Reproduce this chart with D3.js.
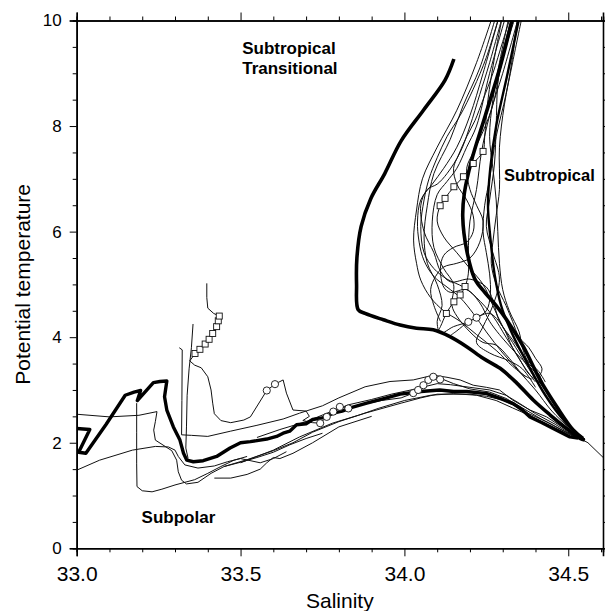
<!DOCTYPE html>
<html>
<head>
<meta charset="utf-8">
<style>
  body { margin: 0; background: #fff; }
  svg { font-family: "Liberation Sans", Arial, sans-serif; }
  .thin { fill: none; stroke: #111; stroke-width: 1; }
  .thick { fill: none; stroke: #000; stroke-width: 3.6; stroke-linejoin: round; }
  .axis path, .axis line { stroke: #000; }
  .axis path { stroke-width: 1.6; }
  .lbl { font-weight: bold; font-size: 17px; }
</style>
</head>
<body>
<svg width="605" height="611"></svg>
<script src="https://cdnjs.cloudflare.com/ajax/libs/d3/7.8.5/d3.min.js"></script>
<script>
// tick values
var xMajor = [33.0, 33.5, 34.0, 34.5];
var xMinor = [33.1, 33.2, 33.3, 33.4, 33.6, 33.7, 33.8, 33.9, 34.1, 34.2, 34.3, 34.4, 34.6];
var yMajor = [0, 2, 4, 6, 8, 10];
var yMinor = [0.5, 1, 1.5, 2.5, 3, 3.5, 4.5, 5, 5.5, 6.5, 7, 7.5, 8.5, 9, 9.5];

// thick profiles [salinity, temperature]
var thickTransitional = [[34.151,9.27],[34.124,8.87],[34.058,8.30],[33.99,7.72],[33.94,7.10],[33.897,6.62],[33.868,6.10],[33.855,5.5],[33.854,5.0],[33.859,4.52],
  [33.88,4.45],[33.936,4.33],[33.987,4.23],[34.037,4.17],[34.088,4.14],[34.139,4.01],[34.19,3.82],[34.24,3.60],[34.292,3.41],[34.343,3.13],[34.393,2.81],[34.444,2.53],[34.495,2.27],[34.536,2.08],[34.55,2.05]];
var thickSubtropical = [[34.332,10.1],[34.292,9.12],[34.246,8.18],[34.205,7.35],[34.183,6.73],[34.178,6.28],[34.19,5.65],[34.215,5.10],[34.245,4.85],[34.28,4.6],[34.312,4.33],[34.363,3.82],[34.414,3.19],[34.465,2.68],[34.515,2.24],[34.545,2.08]];
var thickSubtropical2 = [[34.352,10.1],[34.315,9.0],[34.28,8.0],[34.262,7.2],[34.255,6.5],[34.262,5.9],[34.275,5.2],[34.295,4.6],[34.33,4.05],[34.38,3.45],[34.43,2.9],[34.49,2.4],[34.55,2.05]];
var thickSubpolar = [[33.0,2.27],[33.04,2.25],[33.006,1.82],[33.028,1.80],[33.09,2.35],[33.148,2.90],[33.175,2.96],[33.195,2.99],[33.185,2.80],[33.234,3.14],[33.254,3.16],[33.275,3.17],[33.268,2.87],[33.275,2.62],[33.295,2.30],[33.315,2.05],[33.326,1.80],[33.336,1.67],
  [33.356,1.64],[33.386,1.66],[33.427,1.74],[33.468,1.90],[33.50,2.00],[33.53,2.02],[33.55,2.04],[33.58,2.07],[33.61,2.12],[33.63,2.18],[33.65,2.22],[33.671,2.34],[33.70,2.36],[33.72,2.44],[33.75,2.47],[33.783,2.56],[33.81,2.60],[33.84,2.67],[33.885,2.75],[33.94,2.84],[33.987,2.92],
  [34.05,2.97],[34.108,3.0],[34.15,2.97],[34.19,2.97],[34.251,2.93],[34.30,2.82],[34.332,2.74],[34.36,2.62],[34.383,2.49],[34.42,2.38],[34.454,2.27],[34.505,2.11],[34.53,2.09]];

// thin profiles, subtropical bundle
var thinB1 = [[34.27,10.1],[34.22,9.2],[34.16,8.3],[34.10,7.6],[34.055,7.0],[34.037,6.41],[34.028,5.84],[34.037,5.40],[34.05,5.08],[34.08,4.75],[34.12,4.5],[34.17,4.3],[34.22,4.05],[34.28,3.75],[34.33,3.45],[34.37,3.25]];
var thinB2 = [[34.28,10.1],[34.23,9.1],[34.18,8.4],[34.14,7.75],[34.09,7.1],[34.07,6.5],[34.06,5.9],[34.07,5.4],[34.10,5.0],[34.115,4.6],[34.10,4.3],[34.11,4.08],[34.15,4.2],[34.195,4.29],[34.22,4.37],[34.26,4.45],[34.30,4.2],[34.33,3.8],[34.37,3.4],[34.40,3.15]];
var thinB3 = [[34.30,10.1],[34.275,9.3],[34.255,8.5],[34.245,7.8],[34.24,7.52],[34.21,7.29],[34.18,7.04],[34.151,6.85],[34.124,6.63],[34.109,6.49],[34.10,6.2],[34.12,5.9],[34.16,5.6],[34.2,5.3],[34.24,5.0],[34.27,4.6],[34.30,4.2],[34.34,3.8],[34.38,3.4],[34.42,3.0]];
var thinB4 = [[34.35,10.1],[34.30,9.0],[34.26,8.2],[34.235,7.5],[34.22,6.8],[34.20,6.2],[34.195,5.6],[34.195,5.2],[34.185,4.96],[34.17,4.8],[34.151,4.67],[34.128,4.45],[34.11,4.2],[34.10,4.08]];
var thinB5 = [[34.345,10.1],[34.33,9.3],[34.31,8.6],[34.28,7.8],[34.26,7.0],[34.245,6.5],[34.24,6.0],[34.25,5.6],[34.26,5.2],[34.262,4.8],[34.25,4.5],[34.22,4.37],[34.195,4.29],[34.16,4.12],[34.14,4.03]];
var thinB6 = [[34.29,10.1],[34.24,9.0],[34.20,8.2],[34.16,7.6],[34.12,7.2],[34.085,6.9],[34.05,6.6],[34.04,6.2],[34.045,5.8],[34.06,5.45],[34.09,5.15],[34.13,4.95],[34.17,4.75],[34.21,4.45],[34.25,4.1],[34.3,3.7],[34.35,3.35],[34.40,3.0],[34.45,2.6],[34.5,2.3],[34.55,2.05]];
var thinB7 = [[34.32,10.1],[34.29,9.2],[34.27,8.5],[34.26,7.8],[34.27,7.2],[34.28,6.6],[34.285,6.0],[34.29,5.4],[34.30,4.9],[34.32,4.5],[34.35,4.1],[34.36,3.8],[34.38,3.5],[34.41,3.3],[34.43,3.0]];
var thinB8 = [[34.33,10.1],[34.30,9.4],[34.285,8.8],[34.28,8.0],[34.275,7.3],[34.26,6.6],[34.25,6.1],[34.27,5.6],[34.29,5.1],[34.27,4.6],[34.24,4.2],[34.22,3.9],[34.26,3.7],[34.32,3.55],[34.36,3.4],[34.40,3.05]];
var thinB9 = [[34.31,10.1],[34.26,9.0],[34.22,8.0],[34.19,7.6],[34.16,7.2],[34.13,6.95],[34.10,6.7],[34.085,6.2],[34.09,5.7],[34.12,5.3],[34.15,5.0],[34.145,4.6],[34.16,4.4],[34.20,4.1],[34.24,3.9],[34.28,3.85],[34.32,3.6],[34.36,3.3],[34.39,3.2]];
var thinB10 = [[34.34,10.1],[34.31,9.5],[34.29,9.0],[34.27,8.4],[34.24,7.9],[34.21,7.5],[34.19,7.2],[34.20,6.8],[34.22,6.5],[34.24,6.2],[34.23,5.8],[34.20,5.5],[34.16,5.4],[34.12,5.33],[34.095,5.15],[34.08,4.9],[34.09,4.6],[34.11,4.3]];
var thinB11 = [[34.36,10.1],[34.33,9.2],[34.305,8.4],[34.29,7.6],[34.29,6.8],[34.28,6.3],[34.27,5.8],[34.265,5.4],[34.28,5.0],[34.31,4.6],[34.33,4.3],[34.35,4.0],[34.38,3.8],[34.40,3.6],[34.42,3.4],[34.41,3.2],[34.43,3.0]];
var thinB12 = [[34.29,10.1],[34.25,9.3],[34.21,8.7],[34.17,8.2],[34.13,7.8],[34.10,7.4],[34.075,7.0],[34.06,6.6],[34.05,6.1],[34.06,5.6],[34.09,5.3],[34.13,5.1],[34.18,4.95],[34.22,4.75],[34.27,4.4],[34.31,4.0],[34.35,3.6],[34.38,3.3],[34.42,3.1],[34.47,2.6],[34.52,2.2]];
var thinB13 = [[34.30,10.1],[34.26,9.2],[34.23,8.6],[34.20,8.0],[34.17,7.5],[34.13,7.1],[34.10,6.9],[34.07,6.8],[34.05,6.5],[34.06,6.0],[34.09,5.6],[34.11,5.25],[34.14,5.05],[34.2,5.1],[34.25,4.95],[34.27,4.7],[34.29,4.3],[34.33,3.95],[34.37,3.6],[34.41,3.35],[34.43,3.15]];
var thinB14 = [[34.325,10.1],[34.30,9.6],[34.27,9.0],[34.24,8.5],[34.215,8.1],[34.19,7.8],[34.165,7.45],[34.15,7.2],[34.16,6.9],[34.19,6.6],[34.21,6.3],[34.21,6.0],[34.19,5.8],[34.15,5.7],[34.12,5.55],[34.11,5.3],[34.12,4.95],[34.14,4.85],[34.19,4.9],[34.23,4.65],[34.26,4.3],[34.29,4.05],[34.34,3.7],[34.38,3.45],[34.415,3.25]];
var thinTail = [[34.53,2.1],[34.56,2.0],[34.61,1.70]];

// thin profiles, subpolar and arc
var thinP1 = [[33.0,2.54],[33.1,2.49],[33.19,2.52],[33.245,2.59],[33.24,2.40],[33.235,2.24],[33.24,2.05],[33.27,1.93],[33.29,1.85],[33.305,1.67],[33.31,1.45],[33.32,1.29],[33.335,1.22],[33.37,1.25],[33.41,1.42],[33.45,1.55],[33.5,1.63],[33.55,1.72],[33.6,1.82],[33.65,1.96],[33.7,2.08],[33.75,2.18]];
var thinP2 = [[33.0,1.48],[33.07,1.67],[33.17,1.86],[33.24,1.93],[33.28,1.92],[33.30,1.86],[33.31,1.74],[33.33,1.58],[33.37,1.52],[33.42,1.56],[33.46,1.64],[33.5,1.70],[33.56,1.62],[33.6,1.70],[33.64,1.83]];
var thinP3 = [[33.183,2.75],[33.183,2.2],[33.183,1.6],[33.184,1.17],[33.2,1.09],[33.23,1.07],[33.26,1.12],[33.3,1.2],[33.36,1.3],[33.4,1.42],[33.44,1.55],[33.48,1.67],[33.52,1.74]];
var thinP4 = [[33.313,3.80],[33.322,3.76],[33.321,2.8],[33.320,2.15],[33.35,2.14],[33.40,2.12],[33.47,2.22],[33.55,2.33],[33.63,2.45],[33.68,2.56],[33.75,2.70],[33.80,2.85],[33.88,3.06],[33.956,3.16],[34.027,3.19],[34.088,3.28],[34.13,3.24],[34.17,3.19],[34.21,3.09],[34.25,3.05],[34.29,3.0],[34.33,2.81],[34.383,2.62],[34.434,2.49],[34.495,2.24],[34.54,2.08]];
var thinP5 = [[33.355,4.25],[33.35,3.8],[33.343,3.4],[33.337,2.9],[33.335,2.3],[33.333,1.9],[33.34,1.7]];
var thinP6 = [[33.397,5.02],[33.397,4.75],[33.40,4.55],[33.418,4.45],[33.435,4.40],[33.427,4.20],[33.415,4.07],[33.404,3.96],[33.392,3.87],[33.376,3.77],[33.361,3.69],[33.345,3.55],[33.36,3.47],[33.38,3.42],[33.40,3.25],[33.41,3.0],[33.415,2.75],[33.42,2.55],[33.44,2.42],[33.47,2.38],[33.51,2.43],[33.53,2.49],[33.58,2.99],[33.605,3.11],[33.63,3.19],[33.64,2.94],[33.66,2.62],[33.70,2.60],[33.71,2.50],[33.69,2.42],[33.72,2.38],[33.743,2.37],[33.763,2.49],[33.783,2.59],[33.803,2.68],[33.829,2.65],[33.87,2.72],[33.93,2.80],[33.99,2.85],[34.027,2.94],[34.042,3.0],[34.058,3.09],[34.073,3.19],[34.088,3.25],[34.11,3.22],[34.15,3.12],[34.2,3.02],[34.26,2.96],[34.31,2.84],[34.36,2.66],[34.42,2.44],[34.48,2.24],[34.53,2.09]];
var thinArcB = [[33.5,1.62],[33.55,1.74],[33.6,1.86],[33.68,2.11],[33.78,2.37],[33.88,2.56],[33.99,2.75],[34.05,2.85],[34.1,2.92],[34.2,2.92],[34.25,2.88],[34.3,2.81],[34.33,2.72],[34.38,2.55],[34.44,2.38],[34.50,2.18],[34.54,2.07]];
var thinArcC = [[33.55,2.10],[33.62,2.25],[33.70,2.40],[33.78,2.60],[33.83,2.72],[33.90,2.82],[33.96,2.92],[34.02,3.00],[34.06,3.06],[34.10,3.12],[34.14,3.10],[34.2,3.05],[34.26,3.0],[34.31,2.9],[34.35,2.75],[34.40,2.55],[34.46,2.35],[34.52,2.12]];
var thinArcD = [[33.45,1.55],[33.52,1.68],[33.6,1.85],[33.66,2.0],[33.72,2.2],[33.80,2.40],[33.86,2.52],[33.92,2.65],[34.0,2.80],[34.08,2.90],[34.15,2.93],[34.22,2.90],[34.28,2.80],[34.33,2.66],[34.37,2.55],[34.42,2.40],[34.48,2.22],[34.53,2.08]];
var thinArcE = [[33.42,1.33],[33.47,1.33],[33.52,1.40],[33.56,1.50],[33.58,1.62],[33.6,1.72],[33.62,1.70],[33.66,1.80],[33.72,2.0],[33.8,2.3],[33.9,2.5]];

// markers
var circlePts = [[33.58,2.99],[33.605,3.11],[33.743,2.37],[33.763,2.49],[33.783,2.59],[33.803,2.68],[33.829,2.65],
  [34.027,2.94],[34.042,3.0],[34.058,3.09],[34.073,3.19],[34.088,3.25],[34.109,3.2],[34.195,4.29],[34.22,4.37]];
var squarePts = [[33.361,3.69],[33.376,3.77],[33.392,3.87],[33.404,3.96],[33.415,4.07],[33.427,4.20],[33.432,4.31],[33.435,4.40],
  [34.109,6.49],[34.124,6.63],[34.151,6.85],[34.18,7.04],[34.21,7.29],[34.24,7.52],
  [34.128,4.45],[34.151,4.67],[34.17,4.8],[34.185,4.96]];

var thinSmooth = [thinB1, thinB2, thinB3, thinB4, thinB5, thinB6, thinB7, thinB8, thinB9, thinB10, thinB11, thinB12, thinB13, thinB14];
var thinJagged = [thinTail, thinP1, thinP2, thinP3, thinP4, thinP5, thinP6, thinArcB, thinArcC, thinArcD, thinArcE];

var svg = d3.select("svg");
var x = d3.scaleLinear().domain([33, 34.606]).range([76.7, 603]);
var y = d3.scaleLinear().domain([0, 10]).range([548.3, 20.5]);

svg.append("clipPath").attr("id", "clip").append("rect")
  .attr("x", x(33)).attr("y", y(10)).attr("width", x(34.606) - x(33)).attr("height", y(0) - y(10));

var g = svg.append("g").attr("clip-path", "url(#clip)");

var smooth = d3.line().x(function(d) { return x(d[0]); }).y(function(d) { return y(d[1]); }).curve(d3.curveCatmullRom.alpha(0.5));
var jag = d3.line().x(function(d) { return x(d[0]); }).y(function(d) { return y(d[1]); });

g.selectAll(".ts").data(thinSmooth).enter().append("path").attr("class", "thin").attr("d", smooth);
g.selectAll(".tj").data(thinJagged).enter().append("path").attr("class", "thin").attr("d", jag);

g.append("path").attr("class", "thick").attr("d", smooth(thickTransitional));
g.append("path").attr("class", "thick").attr("d", smooth(thickSubtropical));
g.append("path").attr("class", "thick").style("stroke-width", 2.4).attr("d", smooth(thickSubtropical2));
g.append("path").attr("class", "thick").style("stroke-width", 3.4).attr("d", jag(thickSubpolar));

g.selectAll(".sq").data(squarePts).enter().append("rect")
  .attr("x", function(d) { return x(d[0]) - 3; }).attr("y", function(d) { return y(d[1]) - 3; })
  .attr("width", 6).attr("height", 6).attr("fill", "#fff").attr("stroke", "#111").attr("stroke-width", 0.9);

g.selectAll(".ci").data(circlePts).enter().append("circle")
  .attr("cx", function(d) { return x(d[0]); }).attr("cy", function(d) { return y(d[1]); })
  .attr("r", 3.6).attr("fill", "#fff").attr("stroke", "#111").attr("stroke-width", 0.9);

// axes
function noLabel() { return ""; }
svg.append("g").attr("class", "axis").attr("transform", "translate(0," + y(0) + ")")
  .call(d3.axisBottom(x).tickValues(xMajor).tickSize(8).tickPadding(10).tickFormat(d3.format(".1f")))
  .call(function(s) { s.selectAll("text").style("font-size", "21px").attr("fill", "#000"); });
svg.append("g").attr("class", "axis").attr("transform", "translate(0," + y(0) + ")")
  .call(d3.axisBottom(x).tickValues(xMinor).tickSize(4).tickFormat(noLabel));
svg.append("g").attr("class", "axis").attr("transform", "translate(0," + y(10) + ")")
  .call(d3.axisTop(x).tickValues(xMajor).tickSize(8).tickFormat(noLabel));
svg.append("g").attr("class", "axis").attr("transform", "translate(0," + y(10) + ")")
  .call(d3.axisTop(x).tickValues(xMinor).tickSize(4).tickFormat(noLabel));

svg.append("g").attr("class", "axis").attr("transform", "translate(" + x(33) + ",0)")
  .call(d3.axisLeft(y).tickValues(yMajor).tickSize(7).tickPadding(8).tickFormat(d3.format("d")))
  .call(function(s) { s.selectAll("text").style("font-size", "17px").attr("fill", "#000"); });
svg.append("g").attr("class", "axis").attr("transform", "translate(" + x(33) + ",0)")
  .call(d3.axisLeft(y).tickValues(yMinor).tickSize(4).tickFormat(noLabel));
svg.append("g").attr("class", "axis").attr("transform", "translate(" + x(34.606) + ",0)")
  .call(d3.axisRight(y).tickValues(yMajor.concat(yMinor)).tickSize(4).tickFormat(noLabel));

svg.selectAll(".axis path").attr("stroke-width", 1.6);

// axis titles
svg.append("text").attr("x", (x(33) + x(34.606)) / 2).attr("y", 608)
  .attr("text-anchor", "middle").style("font-size", "21px").text("Salinity");
svg.append("text").attr("transform", "translate(30," + (y(0) + y(10)) / 2 + ") rotate(-90)")
  .attr("text-anchor", "middle").style("font-size", "21px").text("Potential temperature");

// region labels
svg.append("text").attr("class", "lbl").attr("x", x(33.505)).attr("y", y(9.36)).text("Subtropical");
svg.append("text").attr("class", "lbl").attr("x", x(33.505)).attr("y", y(8.98)).text("Transitional");
svg.append("text").attr("class", "lbl").style("font-size", "16.5px").attr("x", x(34.304)).attr("y", y(6.96)).text("Subtropical");
svg.append("text").attr("class", "lbl").attr("x", x(33.198)).attr("y", y(0.47)).text("Subpolar");
</script>
</body>
</html>
